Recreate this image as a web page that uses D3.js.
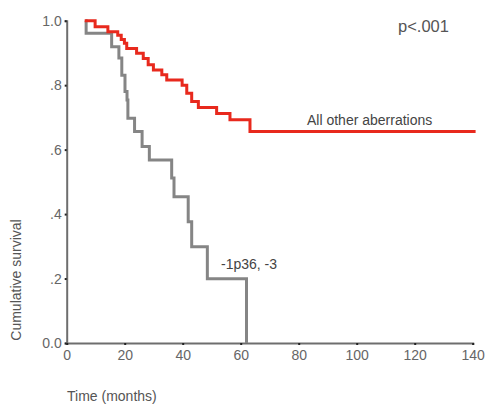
<!DOCTYPE html>
<html><head><meta charset="utf-8">
<script src="https://cdn.jsdelivr.net/npm/d3@7"></script>
<style>body{margin:0;background:#fff}svg{display:block}text{font-family:"Liberation Sans",Arial,sans-serif}</style>
</head><body>
<svg id="c" width="486" height="404"></svg>
<script>
const xTicks = [0, 20, 40, 60, 80, 100, 120, 140];
const yTicks = [0, 0.2, 0.4, 0.6, 0.8, 1.0];
const yTickLabels = ["0.0", ".2", ".4", ".6", ".8", "1.0"];

const otherTimes = [6.2, 9.8, 14.2, 17.6, 18.8, 19.9, 20.7, 24.1, 26.4, 28.1, 29.9, 32.8, 34.5, 39.8, 41.4, 43.1, 45.4, 51.7, 56.3, 63.2, 141];
const otherSurv  = [1.0, 0.981, 0.966, 0.955, 0.942, 0.93, 0.914, 0.899, 0.883, 0.863, 0.847, 0.832, 0.816, 0.80, 0.775, 0.749, 0.731, 0.712, 0.693, 0.656, 0.656];

const delTimes = [6.5, 6.7, 15.5, 18.0, 19.0, 20.1, 20.8, 21.1, 23.4, 26.0, 28.5, 36.2, 37.0, 41.9, 43.1, 48.5, 62.0];
const delSurv  = [1.0, 0.961, 0.919, 0.884, 0.831, 0.78, 0.754, 0.697, 0.656, 0.61, 0.568, 0.512, 0.454, 0.376, 0.299, 0.199, 0.0];

const svg = d3.select("#c");
const x = d3.scaleLinear().domain([0, 140]).range([66.7, 472.7]);
const y = d3.scaleLinear().domain([0, 1]).range([343, 20.7]);
const axisCol = "#6e6e6e";

const gy = svg.append("g").attr("transform", `translate(${x(0)},0)`)
  .call(d3.axisLeft(y).tickValues(yTicks).tickFormat((d, i) => yTickLabels[i]).tickSize(2).tickPadding(3));
const gx = svg.append("g").attr("transform", `translate(0,${y(0)})`)
  .call(d3.axisBottom(x).tickValues(xTicks).tickSize(2).tickPadding(5));
[gx, gy].forEach(g => {
  g.select(".domain").attr("stroke", axisCol).attr("stroke-width", 2);
  g.selectAll(".tick line").attr("stroke", "#222").attr("stroke-width", 2);
  g.selectAll(".tick text").attr("fill", "#666").attr("font-size", 14);
});

const line = d3.line().x(d => x(d[0])).y(d => y(d[1])).curve(d3.curveStepAfter);

svg.append("path").datum(delTimes.map((t, i) => [t, delSurv[i]]))
  .attr("d", line).attr("fill", "none").attr("stroke", "#858585").attr("stroke-width", 3);
svg.append("path").datum(otherTimes.map((t, i) => [t, otherSurv[i]]))
  .attr("d", line).attr("fill", "none").attr("stroke", "#e8291d").attr("stroke-width", 3);

svg.append("text").attr("x", 398).attr("y", 32).attr("font-size", 16.5).attr("fill", "#555").text("p<.001");
svg.append("text").attr("x", 307).attr("y", 125).attr("font-size", 14).attr("fill", "#444").text("All other aberrations");
svg.append("text").attr("x", 221).attr("y", 269).attr("font-size", 14).attr("fill", "#444").text("-1p36, -3");
svg.append("text").attr("transform", "translate(21,280) rotate(-90)").attr("text-anchor", "middle")
  .attr("font-size", 14).attr("fill", "#555").text("Cumulative survival");
svg.append("text").attr("x", 67).attr("y", 401).attr("font-size", 14).attr("fill", "#555").text("Time (months)");
</script>
</body></html>
